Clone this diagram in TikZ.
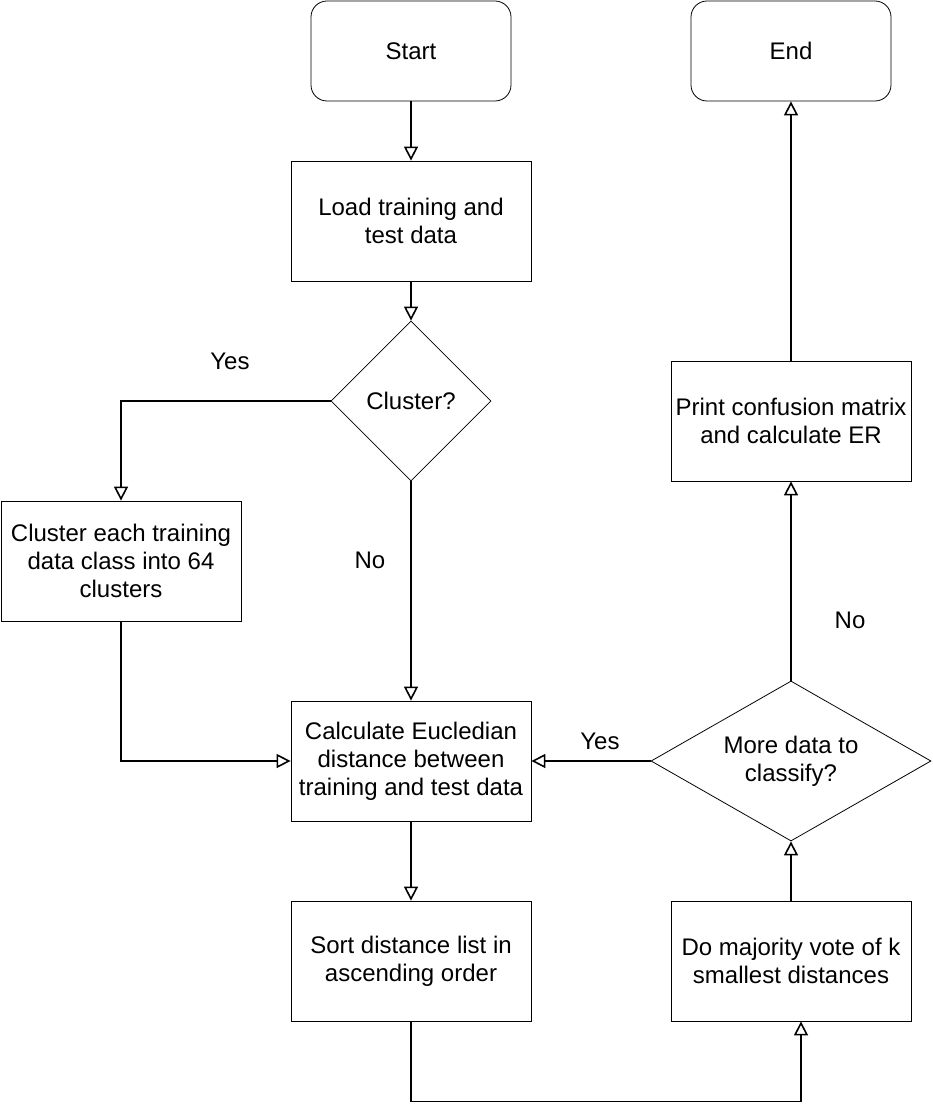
\documentclass[tikz,border=0pt]{standalone}
\usepackage{fontspec}
\setmainfont{Liberation Sans}
\usetikzlibrary{shapes.geometric, arrows.meta, positioning}

\begin{document}
\begin{tikzpicture} [node distance = 2cm, on grid, auto,
    every node/.style = {font=\fontsize{12}{14}\selectfont},
    terminal/.style = {draw, rounded corners=8pt, minimum width=100pt, minimum height=50pt, align=center},
    process/.style = {draw, minimum width=120pt, minimum height=60pt, inner xsep=1pt, align=center},
    decision/.style = {draw, diamond, aspect=1, minimum width=80pt, minimum height=80pt, inner sep=0pt, align=center},
    flow/.style = {-{Triangle[open, length=7pt, width=7pt]}, line width=0.8pt}]

\useasboundingbox (0,0) rectangle (466pt,-559pt);

\node (start) [terminal] at (205.5pt,-25.5pt) {Start};
\node (load) [process, below = 85pt of start] {Load training and\\ test data};
\node (clus) [decision, below = 90pt of load] {Cluster?};
\node (group) [process, below left = 80pt and 145pt of clus] {Cluster each training\\ data class into 64\\ clusters};
\node (dist) [process, below = 180pt of clus] {Calculate Eucledian\\ distance between\\ training and test data};
\node (sort) [process, below = 100pt of dist] {Sort distance list in\\ ascending order};
\node (vote) [process, right = 190pt of sort] {Do majority vote of k\\ smallest distances};
\node (more) [decision, aspect=1.75, minimum width=140pt, above = 100pt of vote] {More data to\\ classify?};
\node (print) [process, above = 170pt of more] {Print confusion matrix\\ and calculate ER};
\node (end) [terminal, above = 185pt of print] {End};

\coordinate (low) at ([yshift=-40pt]sort.south);

\draw [flow] (start) -- (load);
\draw [flow] (load) -- (clus);
\draw [flow] (clus.west) -| node [pos=0.24, yshift=20pt, anchor=center] {Yes} (group.north);
\draw [flow] (clus.south) -- node [pos=0.36, xshift=-20.5pt, anchor=center] {No} (dist.north);
\draw [flow] (group.south) |- (dist.west);
\draw [flow] (dist) -- (sort);
\draw [flow] (sort.south) -- (low) -| ([xshift=5pt]vote.south);
\draw [flow] (vote) -- (more);
\draw [flow] (more.west) -- node [pos=0.425, yshift=10pt, anchor=center] {Yes} (dist.east);
\draw [flow] (more.north) -- node [pos=0.3, xshift=29.5pt, anchor=center] {No} (print.south);
\draw [flow] (print) -- (end);
\end{tikzpicture}
\end{document}
